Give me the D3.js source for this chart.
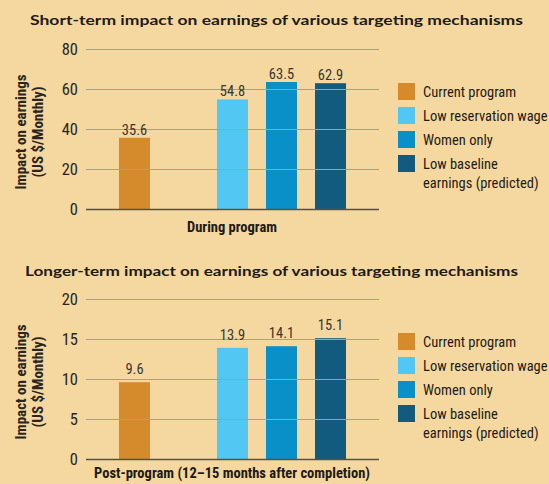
<!DOCTYPE html>
<html>
<head>
<meta charset="utf-8">
<script src="https://cdn.jsdelivr.net/npm/d3@7"></script>
<style>
  body { margin: 0; background: #f5d8a0; }
  svg { display: block; }
  .narrow { font-family: "Liberation Sans Narrow", "Roboto Condensed", "Arial Narrow", sans-serif; }
</style>
</head>
<body>
<svg id="svg" width="549" height="484"></svg>
<script>
// categories (the second slot is an empty gap in the chart)
var categories = ["Current program", "Low reservation wage", "Women only", "Low baseline earnings (predicted)"];
var slots = ["Current program", "_gap", "Low reservation wage", "Women only", "Low baseline earnings (predicted)"];
var colors = ["#d58b2b", "#52c7f3", "#0a90c9", "#135b7e"];
var legendLines = [["Current program"], ["Low reservation wage"], ["Women only"], ["Low baseline", "earnings (predicted)"]];

var shortTermValues = [35.6, 54.8, 63.5, 62.9];
var shortTermTicks = [0, 20, 40, 60, 80];
var longTermValues = [9.6, 13.9, 14.1, 15.1];
var longTermTicks = [0, 5, 10, 15, 20];

var panels = [
  {title: "Short-term impact on earnings of various targeting mechanisms", titleY: 25, titleX: 30,
   xLabel: "During program", values: shortTermValues, ticks: shortTermTicks,
   top: 49, bottom: 209, labelGap: 3, xLabelY: 232, legendY: 92},
  {title: "Longer-term impact on earnings of various targeting mechanisms", titleY: 276, titleX: 25,
   xLabel: "Post-program (12\u201315 months after completion)", values: longTermValues, ticks: longTermTicks,
   top: 299, bottom: 459, labelGap: 8, xLabelY: 478, legendY: 342}
];

var svg = d3.select("#svg");
svg.append("rect").attr("width", 549).attr("height", 484).attr("fill", "#f5d8a0");

var x = d3.scaleBand()
  .domain(slots)
  .range([86, 379])
  .paddingInner(0.367)
  .paddingOuter(0.673)
  .align(0.5);

panels.forEach(function(p) {
  var g = svg.append("g");
  var y = d3.scaleLinear()
    .domain([0, d3.max(p.ticks)])
    .range([p.bottom, p.top]);

  g.append("text")
    .attr("x", p.titleX).attr("y", p.titleY)
    .attr("font-family", "Lato, 'DejaVu Sans', sans-serif")
    .attr("font-weight", "bold").attr("font-size", 13.5)
    .attr("fill", "#1e1a14")
    .attr("textLength", 493).attr("lengthAdjust", "spacingAndGlyphs")
    .text(p.title);

  // gridlines and tick labels
  var axis = g.append("g")
    .attr("transform", "translate(86,0)")
    .call(d3.axisLeft(y).tickValues(p.ticks).tickSize(-293).tickPadding(8));
  axis.select(".domain").remove();
  axis.selectAll(".tick line")
    .attr("stroke", d => d === 0 ? "#5a5040" : "#a8a08c")
    .attr("stroke-width", d => d === 0 ? 1.6 : 1);
  axis.selectAll(".tick text")
    .attr("class", "narrow")
    .attr("font-size", 16.5).attr("fill", "#2a2520");

  // bars
  var slotOf = function(i) { return i === 0 ? slots[0] : slots[i + 1]; };
  g.selectAll("rect.bar").data(p.values).enter().append("rect")
    .attr("class", "bar")
    .attr("x", (d, i) => x(slotOf(i)))
    .attr("width", x.bandwidth())
    .attr("y", d => y(d))
    .attr("height", d => y(0) - y(d))
    .attr("fill", (d, i) => colors[i]);
  // baseline drawn over the bars
  g.node().appendChild(axis.node());

  g.selectAll("text.val").data(p.values).enter().append("text")
    .attr("class", "narrow")
    .attr("x", (d, i) => x(slotOf(i)) + x.bandwidth() / 2)
    .attr("y", d => y(d) - p.labelGap)
    .attr("text-anchor", "middle")
    .attr("font-size", 14.5).attr("fill", "#3a3530")
    .text(d => d.toFixed(1));

  g.append("text")
    .attr("class", "narrow")
    .attr("x", 232).attr("y", p.xLabelY)
    .attr("text-anchor", "middle")
    .attr("font-weight", "bold").attr("font-size", 14.5).attr("fill", "#1e1a14")
    .text(p.xLabel);

  // y title
  var cy = (p.top + p.bottom) / 2 + 3;
  var yt = g.append("text")
    .attr("class", "narrow")
    .attr("transform", "translate(26," + cy + ") rotate(-90)")
    .attr("text-anchor", "middle")
    .attr("font-weight", "bold").attr("font-size", 15).attr("fill", "#2a2520");
  yt.append("tspan").attr("x", 0).attr("dy", 0).text("Impact on earnings");
  yt.append("tspan").attr("x", 0).attr("dy", 17).text("(US $/Monthly)");

  // legend
  var leg = g.selectAll("g.leg").data(categories).enter().append("g")
    .attr("transform", (d, i) => "translate(398," + (p.legendY + i * 24) + ")");
  leg.append("rect")
    .attr("x", 0).attr("y", -9).attr("width", 17).attr("height", 17)
    .attr("fill", (d, i) => colors[i]);
  leg.append("text")
    .attr("class", "narrow")
    .attr("x", 25).attr("y", 5)
    .attr("font-size", 14.5).attr("fill", "#1e1a14")
    .selectAll("tspan").data((d, i) => legendLines[i]).enter().append("tspan")
    .attr("x", 25).attr("dy", (d, j) => j === 0 ? 0 : 19)
    .text(d => d);
});
</script>
</body>
</html>
